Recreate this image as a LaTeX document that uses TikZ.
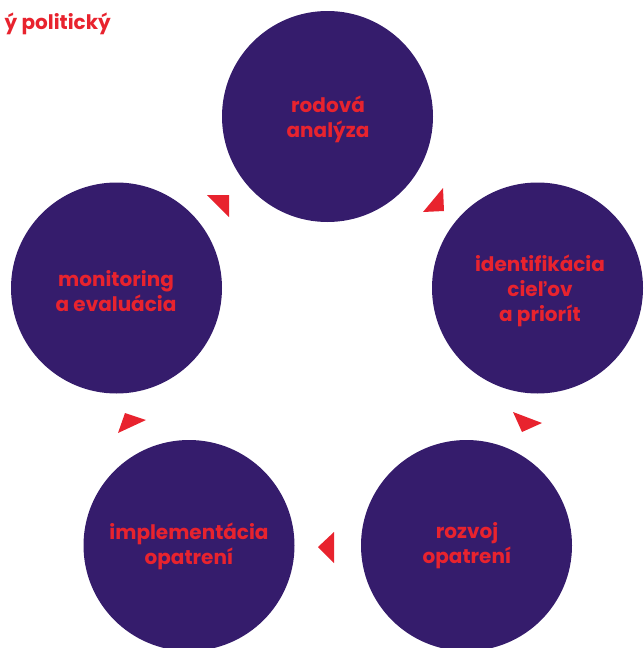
\documentclass[tikz,border=0pt]{standalone}
\usepackage{fontspec}
\setmainfont{Poppins}
\definecolor{purp}{HTML}{351C6C}
\definecolor{accent}{HTML}{E8232E}
\begin{document}
\begin{tikzpicture}[x=1pt,y=-1pt,
  circ/.style={circle, fill=purp, minimum size=211pt, inner sep=0pt},
  lbl/.style={text=accent, font=\bfseries\fontsize{20}{25}\selectfont, align=center, inner sep=0pt},
  tri/.style={fill=accent}]
\useasboundingbox (0,0) rectangle (643,648);
\node[circ] (top) at (327.5,116.5) {};
\node[circ] (right) at (537.5,288) {};
\node[circ] (bright) at (466.5,545.5) {};
\node[circ] (bleft) at (189,545.5) {};
\node[circ] (left) at (116.5,288) {};
\node[lbl] (ttop) at (328,119) {rodová\\analýza};
\node[lbl] (tright) at (540,291) {identifikácia\\cieľov\\a priorít};
\node[lbl] (tbright) at (467,546) {rozvoj\\opatrení};
\node[lbl] (tbleft) at (189,546) {implementácia\\opatrení};
\node[lbl] (tleft) at (116,291) {monitoring\\a evaluácia};
\node[lbl, anchor=base east] (head) at (111,29) {ý politický};
\fill[tri] (207,195) -- (229,195) -- (229,217) -- cycle;
\fill[tri] (423,212) -- (443,188) -- (444,211) -- cycle;
\fill[tri] (513,412) -- (542,423) -- (522,432) -- cycle;
\fill[tri] (318,547) -- (334,532) -- (334,563) -- cycle;
\fill[tri] (125,413) -- (146,420) -- (118,433) -- cycle;
\end{tikzpicture}
\end{document}
